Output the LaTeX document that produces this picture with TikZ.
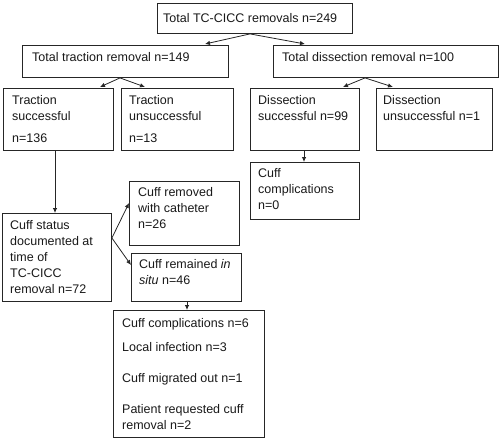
\documentclass[tikz,border=0pt]{standalone}
\usepackage{fontspec}
\setmainfont{Liberation Sans}
\usetikzlibrary{arrows.meta,calc}
\begin{document}
\begin{tikzpicture}[x=1pt,y=-1pt,
  box/.style={draw=black!85,line width=0.9pt,inner sep=0pt,anchor=north west},
  txt/.style={inner sep=0pt,anchor=base west,font=\fontsize{12.5}{16}\selectfont,text=black!90},
  arr/.style={draw=black!85,line width=0.8pt,-{Latex[length=5pt,width=4.5pt]}}]
\useasboundingbox (0,0) rectangle (500,440);
\newcommand{\bx}[5]{\node[box,minimum width=#4-#2,minimum height=#5-#3] (#1) at (#2,#3) {};}
\bx{top}{157}{3}{352}{33}
\bx{trac}{22}{45}{228}{77}
\bx{diss}{273}{45}{498}{77}
\bx{ts}{3}{88}{113}{150}
\bx{tu}{121}{88}{233}{150}
\bx{ds}{250}{88}{359}{150}
\bx{du}{376}{88}{492}{150}
\bx{cc}{250}{162}{359}{219}
\bx{cr}{129}{181}{239}{245}
\bx{cs}{2}{213}{111}{301}
\bx{crem}{131}{253}{241}{301}
\bx{big}{113}{310}{264}{437}
% texts
\node[txt] (ttop) at (163,22.5) {Total TC-CICC removals n=249};
\node[txt] (ttrac) at (32,61.5) {Total traction removal n=149};
\node[txt] (tdiss) at (282,61.5) {Total dissection removal n=100};
\node[txt] (tts) at (12,104.5) {\parbox[t]{100pt}{Traction\\successful\\[6pt]n=136}};
\node[txt] (ttu) at (129,104.5) {\parbox[t]{100pt}{Traction\\unsuccessful\\[6pt]n=13}};
\node[txt] (tds) at (258,104.5) {\parbox[t]{100pt}{Dissection\\successful n=99}};
\node[txt] (tdu) at (383,104.5) {\parbox[t]{110pt}{Dissection\\unsuccessful n=1}};
\node[txt] (tcc) at (258,177.5) {\parbox[t]{100pt}{Cuff\\complications\\n=0}};
\node[txt] (tcr) at (138,196.5) {\parbox[t]{100pt}{Cuff removed\\with catheter\\n=26}};
\node[txt] (tcs) at (10,229.5) {\parbox[t]{100pt}{Cuff status\\documented at\\time of\\TC-CICC\\removal n=72}};
\node[txt] (tcrem) at (139,268.5) {\parbox[t]{100pt}{Cuff remained \textit{in}\\\textit{situ} n=46}};
\node[txt] (tbig) at (122,327.5) {\parbox[t]{140pt}{Cuff complications n=6\\[8pt]Local infection n=3\\[15pt]Cuff migrated out n=1\\[15pt]Patient requested cuff\\removal n=2}};
% connectors
\coordinate (o1) at ($(top.south west)+(93,0)$);
\draw[arr] (o1) -- ($(trac.north west)+(183,-1)$);
\draw[arr] (o1) -- ($(diss.north west)+(32,-1)$);
\coordinate (o2) at ($(trac.south west)+(98,0)$);
\draw[arr] (o2) -- ($(ts.north west)+(97,-1)$);
\draw[arr] (o2) -- ($(tu.north west)+(24,-1)$);
\coordinate (o3) at ($(diss.south west)+(92,0)$);
\draw[arr] (o3) -- ($(ds.north west)+(93,-1)$);
\draw[arr] (o3) -- ($(du.north west)+(17,-1)$);
\draw[arr] ($(ds.south west)+(54,0)$) -- ($(cc.north west)+(54,0)$);
\draw[arr] ($(ts.south west)+(52,0)$) -- ($(cs.north west)+(53,0)$);
\coordinate (o4) at ($(cs.north east)+(0,25)$);
\draw[arr] (o4) -- ($(cr.north west)+(0,22)$);
\draw[arr] (o4) -- ($(crem.north west)+(0,12)$);
\draw[arr] ($(crem.south west)+(56,0)$) -- ($(big.north west)+(74,0)$);
\end{tikzpicture}
\end{document}
